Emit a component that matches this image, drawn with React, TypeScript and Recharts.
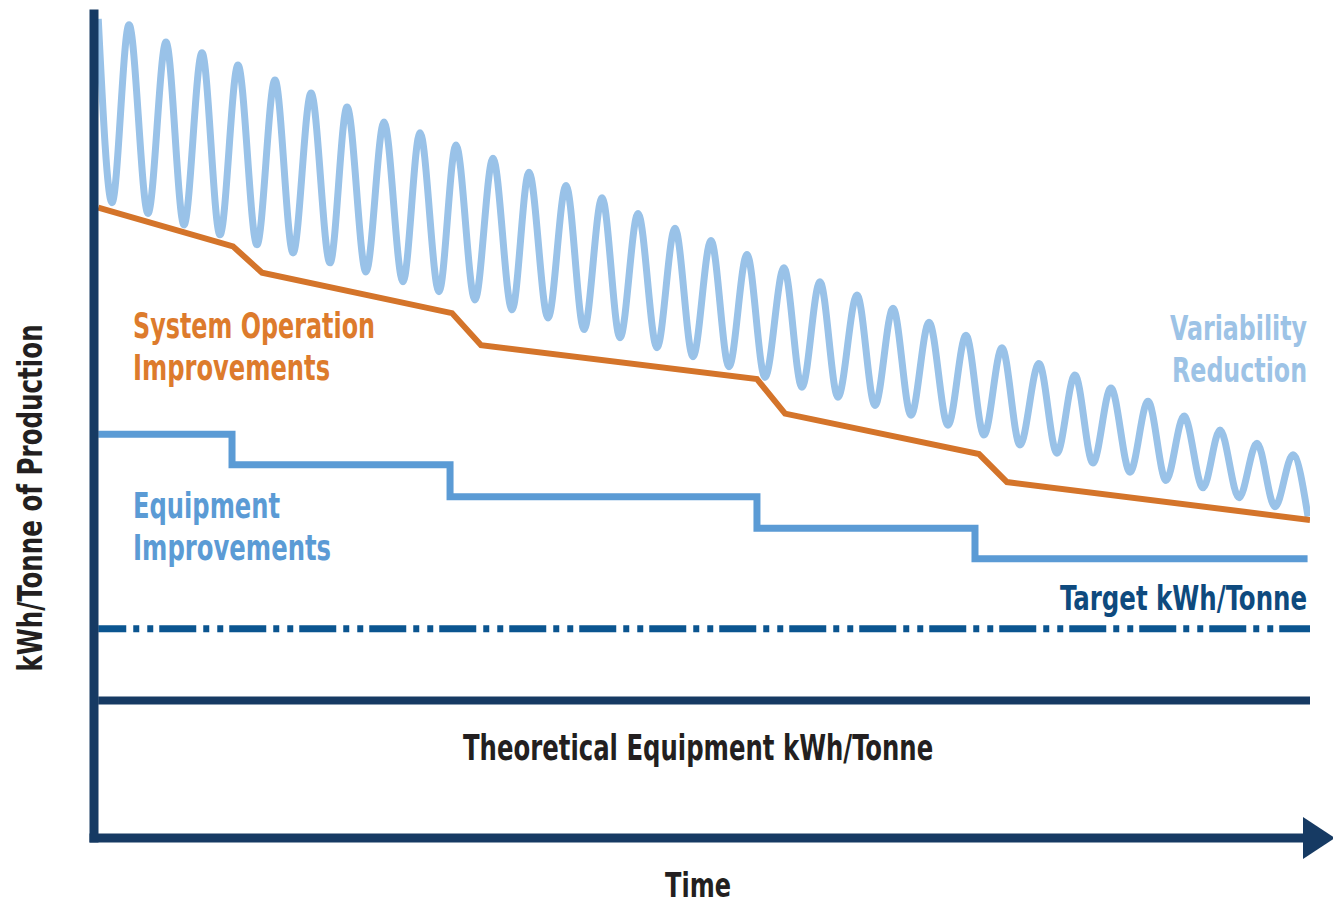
import React, { useLayoutEffect, useRef, useState } from "react";
import { LineChart, Line, XAxis, YAxis, ReferenceDot } from "recharts";

// Conceptual chart: time runs 0..100 along x, kWh/tonne 0..100 up y.
// Values.

// Variability: peaks and troughs of the oscillating consumption line
const WAVE_PEAK_T = [2.88, 5.92, 8.88, 11.84, 14.88, 17.85, 20.81, 23.85, 26.81, 29.77, 32.81, 35.77, 38.82, 41.78, 44.74, 47.78, 50.74, 53.7, 56.74, 59.7, 62.75, 65.71, 68.67, 71.71, 74.67, 77.71, 80.67, 83.63, 86.68, 89.64, 92.6, 95.64, 98.6];
const WAVE_PEAK_V = [98.7, 96.6, 95.3, 93.8, 92.0, 90.4, 88.7, 86.9, 85.6, 84.1, 82.5, 80.8, 79.2, 77.7, 75.8, 74.0, 72.5, 70.8, 69.2, 67.5, 65.9, 64.3, 62.6, 61.0, 59.5, 57.6, 56.2, 54.6, 53.0, 51.2, 49.5, 47.9, 46.5];
const WAVE_TROUGH_T = [1.48, 4.44, 7.4, 10.36, 13.4, 16.37, 19.41, 22.37, 25.41, 28.37, 31.33, 34.38, 37.34, 40.3, 43.26, 46.3, 49.26, 52.22, 55.18, 58.22, 61.18, 64.23, 67.19, 70.23, 73.19, 76.15, 79.19, 82.15, 85.2, 88.16, 91.2, 94.16, 97.12];
const WAVE_TROUGH_V = [77.1, 75.8, 74.4, 73.2, 72.0, 71.0, 69.8, 68.7, 67.5, 66.3, 65.3, 64.1, 63.1, 61.7, 60.7, 59.5, 58.4, 57.2, 55.9, 54.7, 53.5, 52.5, 51.3, 50.1, 48.9, 47.7, 46.7, 45.5, 44.4, 43.4, 42.5, 41.3, 40.2];
const WAVE_START = { t: 0.35, v: 99.4 };
const WAVE_END = { t: 99.84, v: 39.0 };

// System operation improvements (orange)
const SYSOP_T = [0.35, 11.43, 13.82, 29.44, 31.83, 54.52, 56.83, 72.78, 75.08, 100];
const SYSOP_V = [76.5, 71.8, 68.6, 63.7, 59.8, 55.7, 51.5, 46.6, 43.2, 38.6];

// Equipment improvements (step line)
const EQUIP_T = [0.35, 11.35, 29.28, 54.52, 72.45, 99.8];
const EQUIP_V = [49.0, 45.3, 41.4, 37.6, 33.9, 33.9];

const TARGET_V = 25.4;
const THEORETICAL_V = 16.7;
const LINE_SPAN = [0.35, 100];

const NAVY = "#163a63";
const ORANGE = "#d4742a";
const BLUE = "#5b9bd5";
const LIGHT_BLUE = "#99c2e8";
const TARGET_BLUE = "#0b5590";

const FONT = "'Liberation Sans Narrow', 'DejaVu Sans Condensed', 'Roboto Condensed', 'Liberation Sans', Arial, sans-serif";

const zip = (ts: number[], vs: number[]) => ts.map((t, i) => ({ t, v: vs[i] }));

const waveData = [WAVE_START, ...zip(WAVE_PEAK_T, WAVE_PEAK_V), ...zip(WAVE_TROUGH_T, WAVE_TROUGH_V), WAVE_END]
  .sort((a, b) => a.t - b.t);
const sysopData = zip(SYSOP_T, SYSOP_V);
const equipData = zip(EQUIP_T, EQUIP_V);
const targetData = LINE_SPAN.map(t => ({ t, v: TARGET_V }));
const theoreticalData = LINE_SPAN.map(t => ({ t, v: THEORETICAL_V }));

function Arrow(props: { cx?: number; cy?: number }) {
  const { cx = 0, cy = 0 } = props;
  return <polygon points={`${cx - 7},${cy - 21} ${cx + 25},${cy} ${cx - 7},${cy + 21}`} fill={NAVY} />;
}

// Condensed bold label: squeezed horizontally to the width seen in the reference.
function Label({ x, y, text, len, color, size = 36, rotate = 0, anchor = "start" }: {
  x: number; y: number; text: string; len: number; color: string; size?: number; rotate?: number; anchor?: "start" | "middle";
}) {
  const ref = useRef<SVGTextElement>(null);
  const [sx, setSx] = useState(0.8);
  useLayoutEffect(() => {
    const w = ref.current ? ref.current.getComputedTextLength() : 0;
    if (w > 0) setSx(len / w);
  }, [text, len, size]);
  return (
    <text ref={ref} x={0} y={0} transform={`translate(${x} ${y}) rotate(${rotate}) scale(${sx} 1)`}
      fill={color} fontSize={size} fontWeight={700} fontFamily={FONT} textAnchor={anchor}>
      {text}
    </text>
  );
}

export default function App() {
  return (
    <div style={{ position: "absolute", left: 0, top: 0, width: 1333, height: 905, background: "#fff" }}>
      <LineChart width={1333} height={905} margin={{ top: 14, right: 23, bottom: 27, left: 34 }}>
        <XAxis dataKey="t" type="number" domain={[0, 100]} allowDataOverflow height={40}
          tick={false} tickLine={false}
          axisLine={{ stroke: NAVY, strokeWidth: 9, strokeLinecap: "square" }} />
        <YAxis type="number" domain={[0, 100]} allowDataOverflow width={60}
          tick={false} tickLine={false}
          axisLine={{ stroke: NAVY, strokeWidth: 9, strokeLinecap: "square" }} />
        <Line data={theoreticalData} dataKey="v" type="linear" stroke={NAVY} strokeWidth={8} dot={false} isAnimationActive={false} />
        <Line data={targetData} dataKey="v" type="linear" stroke={TARGET_BLUE} strokeWidth={7} dot={false}
          strokeDasharray="37 7 6 8 6 6" strokeDashoffset={9} isAnimationActive={false} />
        <Line data={equipData} dataKey="v" type="stepAfter" stroke={BLUE} strokeWidth={7} dot={false} isAnimationActive={false} />
        <Line data={waveData} dataKey="v" type="monotoneX" stroke={LIGHT_BLUE} strokeWidth={7} dot={false} isAnimationActive={false} />
        <Line data={sysopData} dataKey="v" type="linear" stroke={ORANGE} strokeWidth={6} dot={false} isAnimationActive={false} />
        <ReferenceDot x={100} y={0} shape={Arrow as any} />
      </LineChart>
      <svg width={1333} height={905} style={{ position: "absolute", left: 0, top: 0, pointerEvents: "none" }}>
        <Label x={133} y={338} text="System Operation" len={242} color="#dd7b2c" />
        <Label x={133} y={380} text="Improvements" len={197} color="#dd7b2c" />
        <Label x={133} y={518} text="Equipment" len={147} color={BLUE} />
        <Label x={133} y={560} text="Improvements" len={198} color={BLUE} />
        <Label x={1170} y={340} text="Variability" len={137} color="#9dc3e6" size={34} />
        <Label x={1172} y={382} text="Reduction" len={135} color="#9dc3e6" size={34} />
        <Label x={1060} y={610} text="Target kWh/Tonne" len={247} color="#0e4a7e" size={34} />
        <Label x={463} y={760} text="Theoretical Equipment kWh/Tonne" len={470} color="#231f20" />
        <Label x={665} y={897} text="Time" len={66} color="#231f20" size={33} />
        <Label x={42} y={498} text="kWh/Tonne of Production" len={347} color="#231f20" size={34} rotate={-90} anchor="middle" />
      </svg>
    </div>
  );
}
